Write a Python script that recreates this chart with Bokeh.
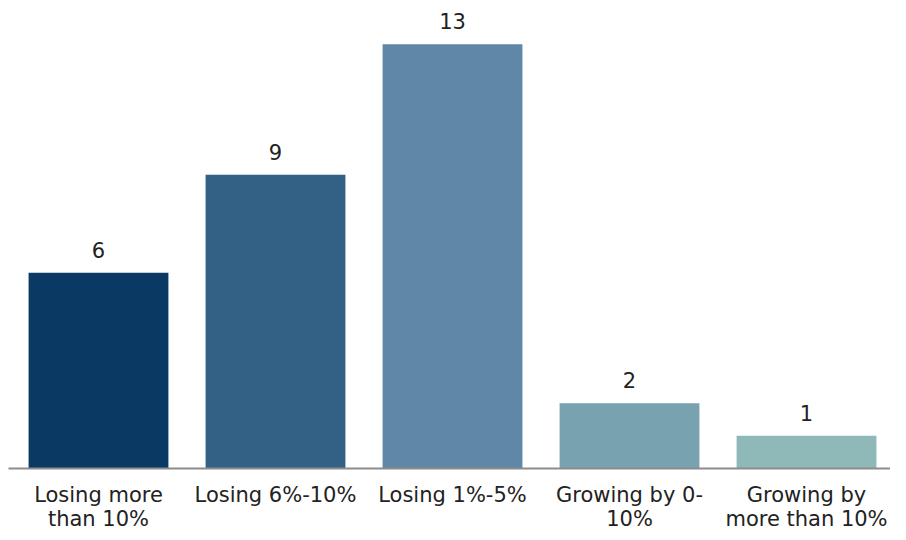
from bokeh.plotting import figure
from bokeh.models import ColumnDataSource, Range1d, FixedTicker
from bokeh.core.properties import value
from bokeh.embed import file_html
from bokeh.resources import INLINE

categories = ["Losing more\nthan 10%", "Losing 6%-10%", "Losing 1%-5%", "Growing by 0-\n10%", "Growing by\nmore than 10%"]
counts = [6, 9, 13, 2, 1]
colors = ["#0a3a63", "#336186", "#5f87a6", "#79a2b0", "#8fb8b8"]

xs = list(range(len(categories)))
src = ColumnDataSource(dict(x=xs, top=counts, color=colors, label=[str(c) for c in counts]))

p = figure(frame_width=882, frame_height=468, output_backend="svg", toolbar_location=None,
           x_range=Range1d(-90 / 177, -90 / 177 + 882 / 177), y_range=Range1d(0, 14.34),
           min_border_left=8, min_border_right=0, min_border_top=0, min_border_bottom=0)

p.vbar(x="x", top="top", width=0.79, bottom=0, fill_color="color", line_color=None, source=src)
p.text(x="x", y="top", text="label", source=src, text_align="center", text_baseline="alphabetic",
       y_offset=-23, text_font=value("DejaVu Sans"), text_font_size="21px", text_color="#222222")

p.yaxis.visible = False
p.xgrid.grid_line_color = None
p.ygrid.grid_line_color = None
p.outline_line_color = None

ax = p.xaxis[0]
ax.ticker = FixedTicker(ticks=xs)
ax.major_label_overrides = {i: c for i, c in zip(xs, categories)}
ax.major_tick_line_color = None
ax.minor_tick_line_color = None
ax.major_tick_out = 0
ax.major_tick_in = 0
ax.axis_label = None
ax.axis_label_standoff = 0
ax.axis_line_color = "#8c8c8c"
ax.axis_line_width = 2
ax.major_label_text_font = "DejaVu Sans"
ax.major_label_text_font_size = "21px"
ax.major_label_text_color = "#222222"
ax.major_label_text_line_height = 1.0
ax.major_label_standoff = 14

open("out.html", "w").write(file_html(p, INLINE))
